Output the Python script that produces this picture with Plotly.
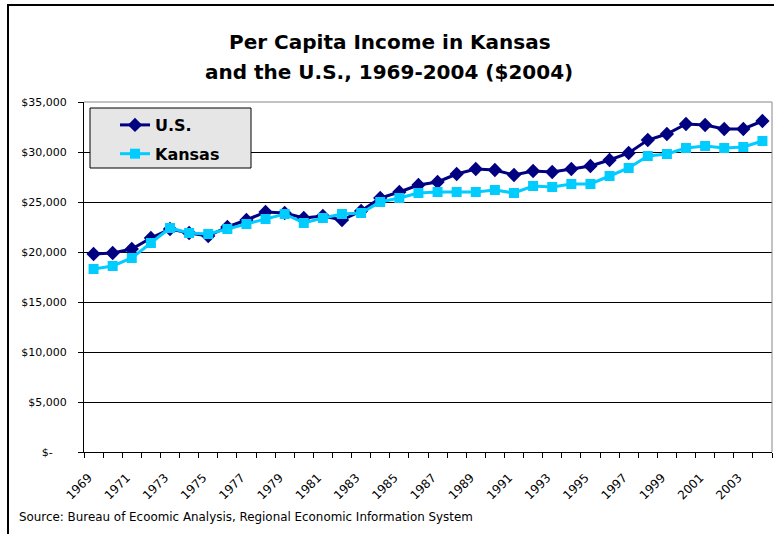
import plotly.graph_objects as go

years = list(range(1969, 2005))
us = [19800, 19900, 20300, 21400, 22300, 21900, 21600, 22500, 23200, 24000,
      23900, 23400, 23600, 23200, 24100, 25400, 26000, 26700, 27000, 27800,
      28300, 28200, 27700, 28100, 28000, 28300, 28600, 29200, 29900, 31200,
      31800, 32800, 32700, 32300, 32300, 33100]
kansas = [18300, 18600, 19400, 20900, 22400, 21900, 21800, 22300, 22800, 23300,
          23800, 22900, 23400, 23800, 23900, 25000, 25400, 25900, 26000, 26000,
          26000, 26200, 25900, 26600, 26500, 26800, 26800, 27600, 28400, 29600,
          29800, 30400, 30600, 30400, 30500, 31100]
ytick_vals = [0, 5000, 10000, 15000, 20000, 25000, 30000, 35000]
ytick_text = ["$-\u00a0\u00a0\u00a0\u00a0", "$5,000", "$10,000", "$15,000", "$20,000",
              "$25,000", "$30,000", "$35,000"]
xtick_vals = list(range(1969, 2004, 2))
xtick_text = [str(y) for y in xtick_vals]

W, H = 774, 534
L, R, T, B = 84, 2, 102, 82
PW, PH = W - L - R, H - T - B


def px(x):
    return (x - L) / PW


def py(y):
    return (H - B - y) / PH


fig = go.Figure()
fig.add_trace(go.Scatter(
    x=years, y=us, name="U.S.", mode="lines+markers", legendgroup="a",
    line=dict(color="#000080", width=3),
    marker=dict(symbol="diamond", size=11, color="#000080"),
))
fig.add_trace(go.Scatter(
    x=years, y=kansas, name="Kansas", mode="lines+markers", legendgroup="b",
    line=dict(color="#00CCFF", width=3),
    marker=dict(symbol="square", size=10, color="#00CCFF"),
))

shapes = [
    # outer chart frame (cut off at right/bottom)
    dict(type="line", xref="paper", yref="paper", x0=px(8), x1=px(8), y0=py(5), y1=py(540),
         line=dict(color="black", width=2), layer="above"),
    dict(type="line", xref="paper", yref="paper", x0=px(7), x1=px(780), y0=py(5), y1=py(5),
         line=dict(color="black", width=2), layer="above"),
    # plot area top/right border
    dict(type="line", xref="paper", yref="paper", x0=0, x1=1, y0=1, y1=1,
         line=dict(color="#888888", width=1), layer="above"),
    dict(type="line", xref="paper", yref="paper", x0=1, x1=1, y0=0, y1=1,
         line=dict(color="#888888", width=1), layer="above"),
    # legend box
    dict(type="rect", xref="paper", yref="paper", x0=px(90), x1=px(251), y0=py(108), y1=py(168),
         fillcolor="#E6E6E6", line=dict(color="black", width=1), layer="above"),
]

title_font = dict(family="DejaVu Sans", size=20, color="black", weight="bold")

fig.update_layout(
    width=W, height=H,
    margin=dict(l=L, r=R, t=T, b=B),
    paper_bgcolor="white", plot_bgcolor="white",
    shapes=shapes,
    showlegend=True,
    legend=dict(
        x=px(115), y=py(108), xanchor="left", yanchor="top",
        bgcolor="rgba(0,0,0,0)", borderwidth=0,
        font=dict(family="DejaVu Sans", size=16, color="black", weight="bold"),
        tracegroupgap=5, traceorder="grouped",
    ),
    annotations=[
        dict(text="Per Capita Income in Kansas",
             xref="paper", yref="paper", x=px(390), y=py(42), xanchor="center", yanchor="middle",
             showarrow=False, font=title_font),
        dict(text="and the U.S., 1969-2004 ($2004)",
             xref="paper", yref="paper", x=px(389), y=py(72), xanchor="center", yanchor="middle",
             showarrow=False, font=title_font),
        dict(text="Source: Bureau of Ecoomic Analysis, Regional Economic Information System",
             xref="paper", yref="paper", x=px(17), y=py(517), xanchor="left", yanchor="middle",
             showarrow=False, font=dict(family="DejaVu Sans", size=11.9, color="black")),
    ],
    xaxis=dict(
        range=[1968.5, 2004.5], tickvals=xtick_vals, ticktext=xtick_text, tickangle=-45,
        ticks="", showgrid=False, zeroline=False,
        showline=True, linecolor="black", linewidth=1,
        ticklabelstandoff=13, ticklabelshift=-5,
        tickfont=dict(family="DejaVu Sans", size=12, color="black"),
        minor=dict(ticks="outside", tick0=1968.5, dtick=1, ticklen=5, tickcolor="black", showgrid=False),
    ),
    yaxis=dict(
        range=[0, 35000], tickvals=ytick_vals, ticktext=ytick_text,
        ticks="outside", ticklen=5, tickcolor="black",
        ticklabelstandoff=9,
        showgrid=True, gridcolor="black", gridwidth=1, zeroline=False,
        showline=True, linecolor="black", linewidth=1,
        tickfont=dict(family="DejaVu Sans", size=11, color="black"),
    ),
)

fig.write_html("out.html", config={"displayModeBar": False},
               post_script="document.body.style.margin='0';document.body.style.overflow='hidden';")
